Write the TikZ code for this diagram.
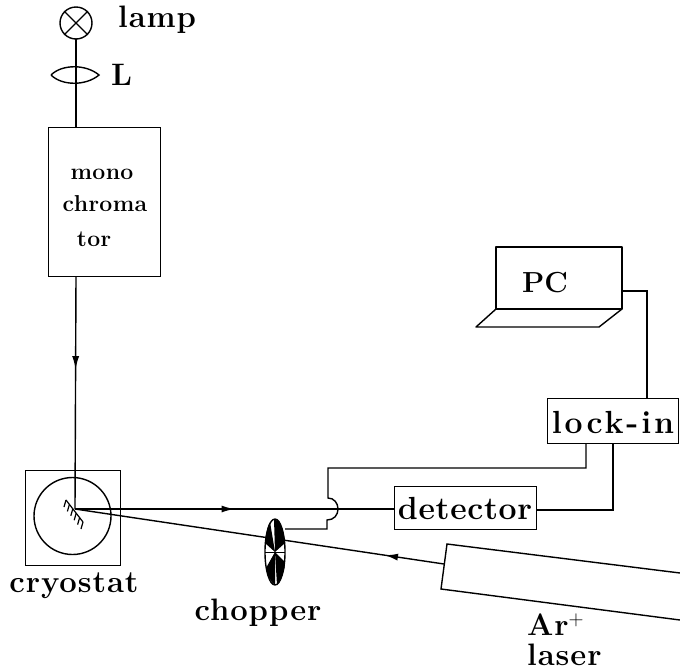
\documentclass[tikz,border=0pt]{standalone}
\usepackage{fontspec}
\setmainfont{Latin Modern Roman}
\usetikzlibrary{arrows.meta,decorations.markings,calc,shapes.geometric}
\tikzset{
  ln/.style={line width=1.4pt,black},
  box/.style={draw,line width=1.4pt,inner sep=0pt,rectangle,anchor=north west},
  lab/.style={inner sep=0pt,font=\bigtxt},
  mid/.style={postaction={decorate,decoration={markings,mark=at position #1 with {\arrow{Latex[length=13pt,width=7pt]}}}}}
}
\newcommand{\bigtxt}{\fontsize{32}{34}\selectfont\bfseries\addfontfeature{LetterSpace=2}}
\newcommand{\locktxtf}{\fontsize{32}{34}\selectfont\bfseries\addfontfeature{LetterSpace=9}}
\newcommand{\pctxtf}{\fontsize{29}{31}\selectfont\bfseries}
\newcommand{\midtxt}{\fontsize{31}{33}\selectfont\bfseries\addfontfeature{LetterSpace=3}}
\newcommand{\smalltxt}{\fontsize{23}{25}\selectfont\bfseries\addfontfeature{LetterSpace=1.5}}
\begin{document}
\begin{tikzpicture}[x=1pt,y=-1pt]
\useasboundingbox (0,0) rectangle (680,670);
% lamp, lens
\node[draw,circle,line width=1.4pt,minimum size=32pt,inner sep=0pt] (lamp) at (76,23) {};
\draw[ln] (lamp.north west) -- (lamp.south east) (lamp.north east) -- (lamp.south west);
\coordinate (lensL) at (51,75); \coordinate (lensR) at (99,75);
\draw[ln] (lensL) .. controls (62,64) and (86,64) .. (lensR) .. controls (86,86) and (62,86) .. (lensL);
\node[lab,font=\midtxt,anchor=base west] (lamptxt) at (118,27) {lamp};
\node[lab,font=\midtxt,anchor=base west] (ltxt) at (111,85) {L};
% monochromator
\node[box,minimum width=112pt,minimum height=149pt] (mono) at (48,127) {};
\node[lab,font=\smalltxt,anchor=base] (t1) at (102,179) {mono};
\node[lab,font=\smalltxt,anchor=base] (t2) at (105,211) {chroma};
\node[lab,font=\smalltxt,anchor=base] (t3) at (94,246) {tor};
\coordinate (lampb) at (76,39);
\coordinate (monot) at (76,127);
\coordinate (monob) at (76,276);
\draw[ln] (lampb) -- (monot);
% cryostat
\node[box,minimum width=95pt,minimum height=95pt] (cryo) at (25,470) {};
\node[draw,circle,line width=1.4pt,minimum size=77pt,inner sep=0pt] (cryoc) at (72.5,516) {};
\coordinate (mir) at (75,509);
\draw[ln,mid=0.4] (monob) -- (mir);
\draw[line width=1.2pt] (66,500) -- (83,522);
\foreach \t in {0,0.2,0.4,0.6,0.8,1}
  \draw[line width=1.2pt] ($(66,500)!\t!(83,522)$) -- ++(-2,7);
\node[lab,font=\midtxt,anchor=base] (cryotxt) at (74,592) {cryostat};
% laser
\coordinate (lasA) at (447,544); \coordinate (lasB) at (441,589);
\coordinate (lasC) at (680,620); \coordinate (lasD) at (680,573);
\draw[ln] (lasD) -- (lasA) -- (lasB) -- (lasC);
\coordinate (lasM) at (444,564);
% chopper
\draw[ln,mid=0.16] (lasM) -- (mir);
\coordinate (chopc) at (275,552);
\node[draw,ellipse,line width=1.4pt,minimum width=20pt,minimum height=66pt,inner sep=0pt,fill=white] (chop) at (chopc) {};
\fill (chopc) -- (274,519) .. controls (280,520) and (284,530) .. (285,543) -- cycle;
\fill (chopc) -- (265,543) .. controls (266,532) and (268,525) .. (270,522) -- cycle;
\fill (chopc) -- (285,562) .. controls (285,570) and (282,578) .. (277,585) -- cycle;
\fill (chopc) -- (266,568) .. controls (267,575) and (271,583) .. (275,585) -- cycle;
\draw[line width=1pt] (265,552) -- (285,552);
\node[lab,font=\midtxt,anchor=base] (choptxt) at (258,620) {chopper};
% detector
\node[box,minimum width=142pt,minimum height=43pt] (det) at (394,486) {};
\node[lab,font=\bigtxt,anchor=base] (dettxt) at (465,519) {detector};
\coordinate (detL) at (394,509); \coordinate (detR) at (536,510);
\draw[ln,mid=0.5] (mir) -- (detL);
% lock-in
\node[box,minimum width=131pt,minimum height=45pt] (lock) at (547,398) {};
\node[lab,font=\locktxtf,anchor=base] (locktxt) at (613,433) {lock-in};
\coordinate (lockA) at (586,443); \coordinate (lockB) at (613,443);
\draw[ln] (detR) -| (lockB);
\draw[ln] (lockA) |- (328,468) -- (328,498)
  .. controls (334,498) and (338,503) .. (338,509)
  .. controls (338,515) and (334,520) .. (327,520)
  -- (327,529) -- (285,529);
% PC
\coordinate (pcA) at (496,247); \coordinate (pcB) at (622,247);
\coordinate (pcC) at (622,309); \coordinate (pcD) at (496,309);
\draw[ln,line join=round] (pcD) -- (pcA) -- (pcB) -- (pcC) -- cycle;
\draw[ln,line join=round] (pcD) -- (476,327) -- (599,327) -- (pcC);
\node[lab,font=\pctxtf,anchor=base] (pctxt) at (545,292) {PC};
\coordinate (pcw) at (622,291); \coordinate (lockT) at (647,398);
\draw[ln] (pcw) -| (lockT);
% laser label
\node[lab,font=\midtxt,anchor=base west] (artxt) at (527,635) {Ar$^{+}$};
\node[lab,font=\midtxt,anchor=base west] (lastxt) at (527,665) {laser};
\end{tikzpicture}
\end{document}
